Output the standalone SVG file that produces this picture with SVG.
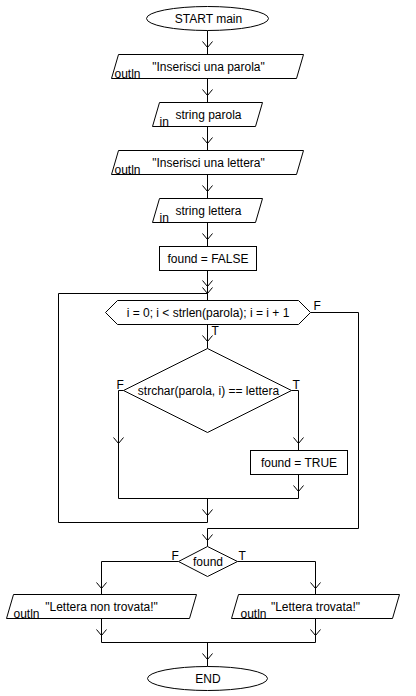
<svg xmlns="http://www.w3.org/2000/svg" xmlns:xlink="http://www.w3.org/1999/xlink" width="416" height="696" viewBox="0 0 416 696">
<style>
.s{fill:#fff;stroke:#000;stroke-width:1}
.c{fill:none;stroke:#000;stroke-width:1}
.t{font-family:"Liberation Sans",Arial,sans-serif;font-size:12px;fill:#000;text-anchor:middle}
.l{font-family:"Liberation Sans",Arial,sans-serif;font-size:12px;fill:#000}
.b{font-family:"Liberation Sans",Arial,sans-serif;font-size:12px;fill:#000}
</style>
<defs>
<path id="ah" d="M-5,-6 L0,0 L5,-6" fill="none" stroke="#000" stroke-width="1"/>
</defs>
<rect width="416" height="696" fill="#fff"/>
<g transform="translate(0.5,0.5)">
<g id="connectors">
<path class="c" d="M207,30 V54 M207,78 V102 M207,126 V150 M207,174 V198 M207,222 V246 M207,270 V300"/>
<path class="c" d="M207,522 H58 V293 H207"/>
<path class="c" d="M207,324 V348"/>
<path class="c" d="M123,390 H118 V498 M291,390 H298 V450 M298,474 V498 M118,498 H298 M207,498 V522"/>
<path class="c" d="M310,312 H358 V528 H207 V546"/>
<path class="c" d="M178,561 H101 V594 M237,561 H315 V594 M101,618 V642 M315,618 V642 M101,642 H315 M207,642 V666"/>
<use xlink:href="#ah" x="207" y="47"/>
<use xlink:href="#ah" x="207" y="95"/>
<use xlink:href="#ah" x="207" y="143"/>
<use xlink:href="#ah" x="207" y="191"/>
<use xlink:href="#ah" x="207" y="239"/>
<use xlink:href="#ah" x="207" y="286"/>
<use xlink:href="#ah" x="207" y="293"/>
<use xlink:href="#ah" x="207" y="341"/>
<use xlink:href="#ah" x="118" y="443"/>
<use xlink:href="#ah" x="298" y="443"/>
<use xlink:href="#ah" x="298" y="491"/>
<use xlink:href="#ah" x="207" y="515"/>
<use xlink:href="#ah" x="207" y="540"/>
<use xlink:href="#ah" x="101" y="588"/>
<use xlink:href="#ah" x="315" y="588"/>
<use xlink:href="#ah" x="101" y="635"/>
<use xlink:href="#ah" x="315" y="635"/>
<use xlink:href="#ah" x="207" y="659"/>
<text class="b" x="313" y="309">F</text>
<text class="b" x="211" y="334">T</text>
<text class="b" x="116" y="388">F</text>
<text class="b" x="292" y="388">T</text>
<text class="b" x="171" y="559">F</text>
<text class="b" x="238" y="559">T</text>
</g>
<g id="start">
<ellipse class="s" cx="207" cy="18" rx="61" ry="12"/>
<text class="t" x="208" y="22.5">START main</text>
</g>
<g id="out1">
<polygon class="s" points="118,54 303,54 296,78 111,78"/>
<text class="t" x="208" y="70">"Inserisci una parola"</text>
<text class="l" x="114" y="77">outln</text>
</g>
<g id="in1">
<polygon class="s" points="159,102 262,102 255,126 152,126"/>
<text class="t" x="208" y="118">string parola</text>
<text class="l" x="159" y="125">in</text>
</g>
<g id="out2">
<polygon class="s" points="118,150 303,150 296,174 111,174"/>
<text class="t" x="208" y="166">"Inserisci una lettera"</text>
<text class="l" x="114" y="173">outln</text>
</g>
<g id="in2">
<polygon class="s" points="159,198 262,198 255,222 152,222"/>
<text class="t" x="208" y="214">string lettera</text>
<text class="l" x="159" y="221">in</text>
</g>
<g id="assign1">
<rect class="s" x="159" y="246" width="97" height="24"/>
<text class="t" x="207.5" y="262">found = FALSE</text>
</g>
<g id="loop">
<polygon class="s" points="105,312 117,300 298,300 310,312 298,324 117,324"/>
<text class="t" x="207.5" y="316">i = 0; i &lt; strlen(parola); i = i + 1</text>
</g>
<g id="cond1">
<polygon class="s" points="207,348 291,390 207,432 123,390"/>
<text class="t" x="208" y="394">strchar(parola, i) == lettera</text>
</g>
<g id="assign2">
<rect class="s" x="250" y="450" width="97" height="24"/>
<text class="t" x="298.5" y="466">found = TRUE</text>
</g>
<g id="cond2">
<polygon class="s" points="207,546 237,561 207,576 178,561"/>
<text class="t" x="207.5" y="565">found</text>
</g>
<g id="outF">
<polygon class="s" points="13,594 196,594 189,618 6,618"/>
<text class="t" x="101" y="610">"Lettera non trovata!"</text>
<text class="l" x="13" y="617">outln</text>
</g>
<g id="outT">
<polygon class="s" points="238,594 399,594 392,618 231,618"/>
<text class="t" x="315" y="610">"Lettera trovata!"</text>
<text class="l" x="240" y="617">outln</text>
</g>
<g id="end">
<ellipse class="s" cx="207" cy="678" rx="60" ry="12"/>
<text class="t" x="207.5" y="682.5">END</text>
</g>
</g>
</svg>
